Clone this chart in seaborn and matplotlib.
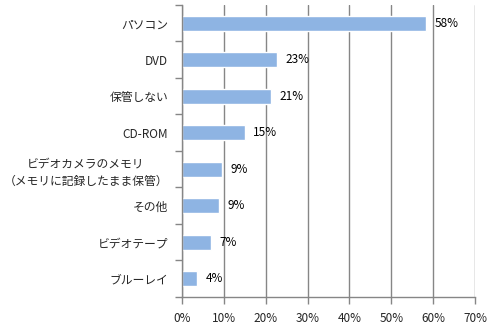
import matplotlib
matplotlib.use("Agg")
import matplotlib.pyplot as plt
import seaborn as sns
import pandas as pd
import numpy as np
from matplotlib.ticker import FixedLocator, FuncFormatter

categories = ["パソコン", "DVD", "保管しない", "CD-ROM",
              "ビデオカメラのメモリ\n（メモリに記録したまま保管）",
              "その他", "ビデオテープ", "ブルーレイ"]
values = [58.3, 22.7, 21.2, 15.0, 9.5, 8.8, 6.9, 3.6]
value_labels = ["58%", "23%", "21%", "15%", "9%", "9%", "7%", "4%"]
x_ticks = [0, 10, 20, 30, 40, 50, 60, 70]

sns.set_style("white")
plt.rcParams['font.family'] = ['Noto Sans CJK JP', 'DejaVu Sans']

df = pd.DataFrame({"category": categories, "value": values})

fig = plt.figure(figsize=(5, 3.3), dpi=100)
ax = fig.add_axes([0.364, 0.1, 0.586, 0.885])

sns.barplot(data=df, y="category", x="value", orient="h", color="#8EB4E3",
            saturation=1, width=0.4, ax=ax, order=categories)

ax.set_xlim(0, 70)
ax.set_ylim(len(categories) - 0.5, -0.5)
ax.set_xlabel("")
ax.set_ylabel("")

grid_c = "#868686"
ax.xaxis.set_major_locator(FixedLocator(x_ticks))
ax.xaxis.set_major_formatter(FuncFormatter(lambda v, p: f"{int(round(v))}%"))
ax.grid(axis="x", color=grid_c, linewidth=1)
ax.set_axisbelow(True)

for s in ["top", "right"]:
    ax.spines[s].set_visible(False)
for s in ["left", "bottom"]:
    ax.spines[s].set_color(grid_c)
    ax.spines[s].set_linewidth(1)

ax.tick_params(axis="x", which="major", length=5, color=grid_c, width=1,
               labelsize=8.5, pad=6, bottom=True)
ax.tick_params(axis="y", which="major", length=0, labelsize=8.5, pad=10)
ax.yaxis.set_minor_locator(FixedLocator(np.arange(-0.5, len(categories) + 0.5, 1.0)))
ax.tick_params(axis="y", which="minor", length=5, color=grid_c, width=1, left=True)
for lab in ax.get_yticklabels():
    lab.set_horizontalalignment("right")
    lab.set_multialignment("center")
    lab.set_linespacing(1.4)

for i, (v, t) in enumerate(zip(values, value_labels)):
    ax.annotate(t, xy=(v, i), xytext=(6, 0), textcoords="offset points",
                va="center", ha="left", fontsize=8.5, color="black")

fig.savefig("out.png", dpi=100)
